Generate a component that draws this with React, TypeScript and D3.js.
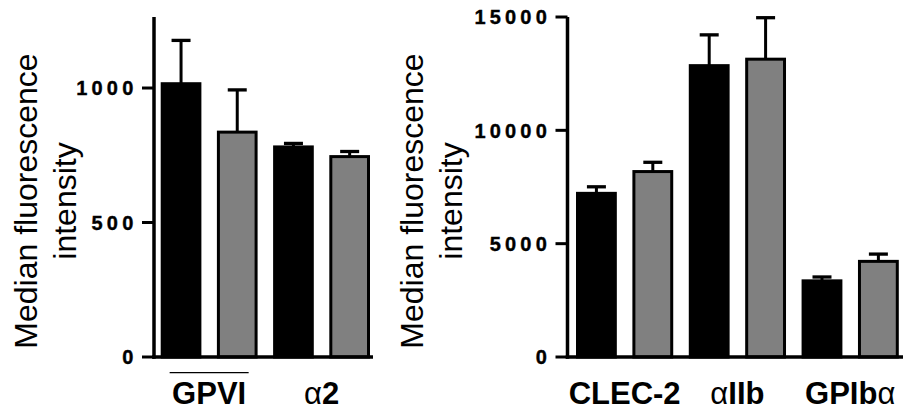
import React from 'react';
import * as d3 from 'd3';

// values (black = first bar, gray = second bar in each group)
const leftGroups = ['GPVI', 'α2'];
const leftBlack = [1016, 781];
const leftGray = [836, 745];
const leftBlackErr = [161, 13];
const leftGrayErr = [157, 19];
const leftTicks = [0, 500, 1000];

const rightGroups = ['CLEC-2', 'αIIb', 'GPIbα'];
const rightBlack = [7220, 12854, 3360];
const rightGray = [8181, 13139, 4219];
const rightBlackErr = [289, 1358, 170];
const rightGrayErr = [409, 1830, 321];
const rightTicks = [0, 5000, 10000, 15000];

const FONT = 'Liberation Sans, Arial, Helvetica, sans-serif';

// split label so greek alpha is drawn in normal weight
const labelParts = (s) => s.split(/(α)/).filter(p => p !== '');

const Panel = ({ groups, black, gray, blackErr, grayErr, ticks, yMax, axisX, barStart, barEnd, axisEnd, titleX, labelEnd, underline }) => {
  const y0 = 357;
  const yTop = 17;
  const y = d3.scaleLinear().domain([0, yMax]).range([y0, yTop]);

  const bars = groups.flatMap((g, i) => [
    { key: g + '-a', group: g, value: black[i], err: blackErr[i], fill: '#000' },
    { key: g + '-b', group: g, value: gray[i], err: grayErr[i], fill: '#808080' },
  ]);

  const x = d3.scaleBand()
    .domain(bars.map(d => d.key))
    .range([barStart, barEnd])
    .paddingInner(0.276)
    .paddingOuter(0);

  const sw = 3;
  const groupCenter = (g) => {
    const a = x(g + '-a');
    const b = x(g + '-b') + x.bandwidth();
    return (a + b) / 2;
  };

  return (
    <g>
      {/* y title */}
      <text transform={`translate(${titleX},201) rotate(-90)`} textAnchor="middle"
        fontFamily={FONT} fontSize={32} fill="#000">
        <tspan x={0} y={0}>Median fluorescence</tspan>
        <tspan x={0} y={39}>intensity</tspan>
      </text>

      {bars.map(d => {
        const bx = x(d.key);
        const bw = x.bandwidth();
        const cx = bx + bw / 2;
        const top = y(d.value);
        const et = y(d.value + d.err);
        return (
          <g key={d.key}>
            <line x1={cx} x2={cx} y1={top} y2={et} stroke="#000" strokeWidth={3} />
            <line x1={cx - 9.5} x2={cx + 9.5} y1={et} y2={et} stroke="#000" strokeWidth={3.3} />
            <rect x={bx + sw / 2} y={top} width={bw - sw} height={y0 - top}
              fill={d.fill} stroke="#000" strokeWidth={sw} />
          </g>
        );
      })}

      {/* axes */}
      <line x1={axisX} x2={axisX} y1={y(yMax)} y2={y0 + 1.75} stroke="#000" strokeWidth={3.5} />
      <line x1={axisX - 1.75} x2={axisEnd} y1={y0} y2={y0} stroke="#000" strokeWidth={3.5} />
      {ticks.map(t => (
        <g key={t}>
          <line x1={axisX - 12} x2={axisX} y1={y(t)} y2={y(t)} stroke="#000" strokeWidth={3} />
          <text x={labelEnd} y={y(t)} dy="0.37em" textAnchor="end" fontFamily={FONT}
            fontWeight="bold" fontSize={20} letterSpacing={4.2} fill="#000"
            stroke="#000" strokeWidth={0.4}>{t}</text>
        </g>
      ))}

      {groups.map(g => (
        <text key={g} x={groupCenter(g)} y={404} textAnchor="middle" fontFamily={FONT}
          fontSize={31} fill="#000">
          {labelParts(g).map((p, i) => (
            <tspan key={i} fontWeight={p === 'α' ? 'normal' : 'bold'}>{p}</tspan>
          ))}
        </text>
      ))}

      {underline && (
        <line x1={groupCenter(groups[0]) - 39.5} x2={groupCenter(groups[0]) + 39.5}
          y1={372.7} y2={372.7} stroke="#000" strokeWidth={1.3} />
      )}
    </g>
  );
};

export default function App() {
  return (
    <svg width={904} height={413} style={{ display: 'block', position: 'absolute', left: 0, top: 0, background: '#fff' }}>
      <rect width={904} height={413} fill="#fff" />
      <Panel groups={leftGroups} black={leftBlack} gray={leftGray}
        blackErr={leftBlackErr} grayErr={leftGrayErr} ticks={leftTicks}
        yMax={1264} axisX={154} barStart={160.7} barEnd={370} axisEnd={373}
        titleX={37} labelEnd={137.5} underline />
      <Panel groups={rightGroups} black={rightBlack} gray={rightGray}
        blackErr={rightBlackErr} grayErr={rightGrayErr} ticks={rightTicks}
        yMax={15000} axisX={567.5} barStart={576} barEnd={898.8} axisEnd={903}
        titleX={423} labelEnd={551} />
    </svg>
  );
}
